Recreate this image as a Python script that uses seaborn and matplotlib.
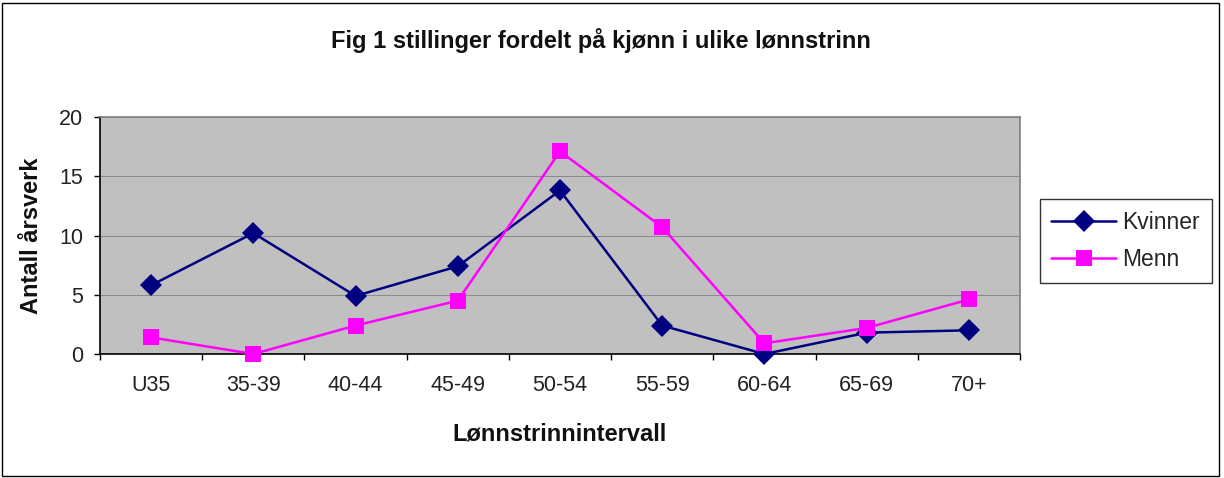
import numpy as np
import pandas as pd
import matplotlib.pyplot as plt
import seaborn as sns
from matplotlib.patches import Rectangle

# Data
intervals = ["U35", "35-39", "40-44", "45-49", "50-54", "55-59", "60-64", "65-69", "70+"]
kvinner = [5.8, 10.2, 4.9, 7.4, 13.8, 2.4, 0.0, 1.8, 2.0]
menn = [1.4, 0.0, 2.4, 4.5, 17.1, 10.7, 0.9, 2.2, 4.6]

df = pd.DataFrame({
    "Lønnstrinnintervall": intervals * 2,
    "Antall": kvinner + menn,
    "Kjønn": ["Kvinner"] * len(intervals) + ["Menn"] * len(intervals),
})
df["pos"] = np.tile(np.arange(len(intervals)), 2)

sns.set_theme(style="white")
plt.rcParams["font.family"] = ["Liberation Sans", "DejaVu Sans"]

fig = plt.figure(figsize=(12.24, 4.78), dpi=100)
ax = fig.add_axes([100 / 1224, 124 / 478, 920 / 1224, 237 / 478])

# outer chart border
fig.patches.append(Rectangle((0.002, 0.004), 0.994, 0.99, transform=fig.transFigure,
                             fill=False, edgecolor="black", linewidth=1.0))

ax.set_facecolor("#c0c0c0")
sns.lineplot(data=df, x="pos", y="Antall", hue="Kjønn", style="Kjønn",
             palette={"Kvinner": "#000080", "Menn": "#ff00ff"},
             markers={"Kvinner": "D", "Menn": "s"}, dashes=False,
             markersize=11, linewidth=1.8, markeredgewidth=0,
             ax=ax, clip_on=False, zorder=3)

ax.set_xlim(-0.5, len(intervals) - 0.5)
ax.set_ylim(0, 20)
ax.set_yticks([0, 5, 10, 15, 20])
ax.yaxis.grid(True, color="#8c8c8c", linewidth=0.8)
ax.set_axisbelow(True)

ax.set_xticks(np.arange(len(intervals)))
ax.set_xticklabels(intervals)
ax.set_xticks(np.arange(-0.5, len(intervals)), minor=True)
ax.tick_params(axis="x", which="major", length=0, pad=15, labelsize=15.5, colors="#222222")
ax.tick_params(axis="x", which="minor", length=4.5, width=1, color="black", bottom=True, direction="out")
ax.tick_params(axis="y", length=4, width=1, color="black", left=True, direction="out",
               labelsize=15.5, pad=8, labelcolor="#222222")

for side in ["left", "bottom"]:
    ax.spines[side].set_color("black")
    ax.spines[side].set_linewidth(1.2)
for side in ["top", "right"]:
    ax.spines[side].set_color("#808080")
    ax.spines[side].set_linewidth(1.2)

ax.set_xlabel("Lønnstrinnintervall", fontsize=17, fontweight="bold", labelpad=19, color="#111111")
ax.set_ylabel("Antall årsverk", fontsize=17, fontweight="bold", labelpad=12, color="#111111")
fig.text(601 / 1224, 1 - 48 / 478, "Fig 1 stillinger fordelt på kjønn i ulike lønnstrinn",
         ha="center", va="baseline", fontsize=17, fontweight="bold", color="#111111")

leg = ax.legend(loc="center left", bbox_to_anchor=(1040 / 1224, 1 - 241 / 478),
                bbox_transform=fig.transFigure, frameon=True, fancybox=False,
                edgecolor="black", fontsize=16.5, handlelength=2.8, handletextpad=0.3,
                borderpad=0.5, labelspacing=0.65, borderaxespad=0, title=None)
leg.get_frame().set_linewidth(1.0)

fig.savefig("out.png", dpi=100)
